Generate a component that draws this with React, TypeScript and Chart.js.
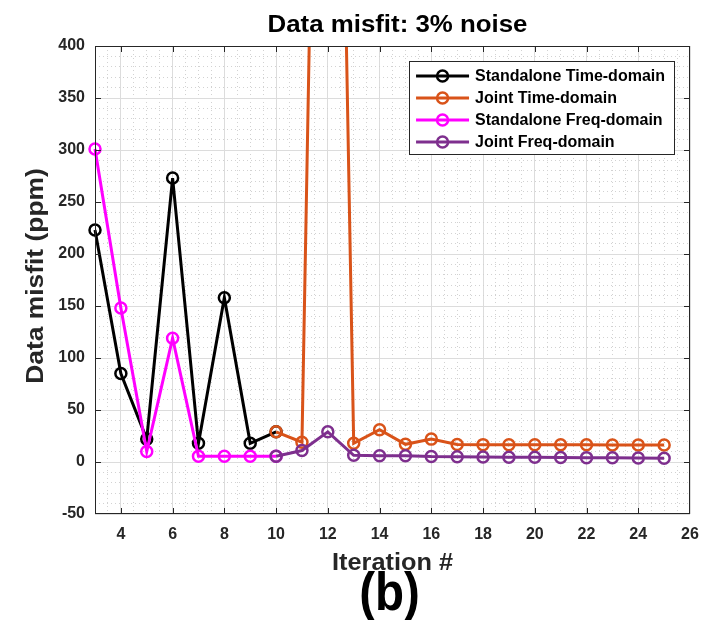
import React, { useEffect, useRef } from "react";
import { Chart, registerables } from "chart.js";

Chart.register(...registerables);

// ---- data ----
const iterations = [3, 4, 5, 6, 7, 8, 9, 10, 11, 12, 13, 14, 15, 16, 17, 18, 19, 20, 21, 22, 23, 24, 25];
const standaloneTime = [223, 85, 22, 273, 18, 158, 18, 29, null, null, null, null, null, null, null, null, null, null, null, null, null, null, null];
const jointTime = [null, null, null, null, null, null, null, 29, 19, 1380, 18, 31, 17, 22, 16.8, 16.7, 16.6, 16.6, 16.5, 16.5, 16.4, 16.4, 16.3];
const standaloneFreq = [301, 148, 10, 119, 5.5, 5.5, 5.5, 5.5, null, null, null, null, null, null, null, null, null, null, null, null, null, null, null];
const jointFreq = [null, null, null, null, null, null, null, 5.5, 11, 29, 6.5, 6, 6, 5.2, 5, 4.8, 4.6, 4.5, 4.3, 4.2, 4.0, 3.9, 3.7];

const seriesLabels = ["Standalone Time-domain", "Joint Time-domain", "Standalone Freq-domain", "Joint Freq-domain"];
const seriesColors = ["#000000", "#D95319", "#FF00FF", "#7E2F8E"];

const titleText = "Data misfit: 3% noise";
const xTitle = "Iteration #";
const yTitle = "Data misfit (ppm)";
const captionText = "(b)";

const xMin = 3, xMax = 26, xMinorStep = 0.5, xMajorStep = 2;
const yMin = -50, yMax = 400, yMinorStep = 10, yMajorStep = 50;

const FONT = "'Liberation Sans', Arial, Helvetica, sans-serif";
const AXIS_COLOR = "#262626";

function drawStretched(ctx: CanvasRenderingContext2D, text: string, x: number, y: number, font: string, color: string, sx: number, rot = 0) {
  ctx.save();
  ctx.translate(x, y);
  if (rot) ctx.rotate(rot);
  ctx.scale(sx, 1);
  ctx.font = font;
  ctx.fillStyle = color;
  ctx.textAlign = "center";
  ctx.textBaseline = "alphabetic";
  ctx.fillText(text, 0, 0);
  ctx.restore();
}

const decorPlugin = {
  id: "decor",
  afterDatasetsDraw(chart: any) {
    const { ctx, chartArea: a, scales } = chart;
    const xs = scales.x, ys = scales.y;
    ctx.save();
    ctx.strokeStyle = AXIS_COLOR;
    ctx.lineWidth = 1;
    ctx.beginPath();
    ys.ticks.forEach((t: any) => {
      if (t.value % yMajorStep !== 0 || t.value === yMin || t.value === yMax) return;
      const py = Math.round(ys.getPixelForValue(t.value)) + 0.5;
      ctx.moveTo(a.left, py); ctx.lineTo(a.left + 6, py);
      ctx.moveTo(a.right, py); ctx.lineTo(a.right - 6, py);
    });
    xs.ticks.forEach((t: any) => {
      if (t.value % xMajorStep !== 0 || t.value === xMax) return;
      const px = Math.round(xs.getPixelForValue(t.value)) + 0.5;
      ctx.moveTo(px, a.bottom); ctx.lineTo(px, a.bottom - 6);
      ctx.moveTo(px, a.top); ctx.lineTo(px, a.top + 6);
    });
    ctx.stroke();
    ctx.strokeRect(a.left + 0.5, a.top + 0.5, a.right - a.left - 1, a.bottom - a.top - 1);
    ctx.restore();
  },
  afterDraw(chart: any) {
    const { ctx, chartArea: a } = chart;
    // legend
    ctx.save();
    ctx.font = `bold 16px ${FONT}`;
    const datasets = chart.data.datasets;
    let maxW = 0;
    datasets.forEach((d: any) => { maxW = Math.max(maxW, ctx.measureText(d.label).width); });
    const boxRight = a.right - 16;
    const boxTop = a.top + 15;
    const boxW = 66 + maxW + 9;
    const rowH = 22;
    const boxH = datasets.length * rowH + 5;
    const boxLeft = boxRight - boxW;
    ctx.fillStyle = "#ffffff";
    ctx.fillRect(boxLeft, boxTop, boxW, boxH);
    ctx.strokeStyle = AXIS_COLOR;
    ctx.lineWidth = 1;
    ctx.strokeRect(Math.round(boxLeft) + 0.5, boxTop + 0.5, Math.round(boxW), boxH);
    datasets.forEach((d: any, i: number) => {
      const cy = boxTop + 15 + i * rowH;
      ctx.strokeStyle = d.borderColor;
      ctx.lineWidth = 3;
      ctx.beginPath();
      ctx.moveTo(boxLeft + 7, cy);
      ctx.lineTo(boxLeft + 60, cy);
      ctx.stroke();
      ctx.lineWidth = 2.5;
      ctx.beginPath();
      ctx.arc(boxLeft + 33.5, cy, 5.5, 0, Math.PI * 2);
      ctx.stroke();
      ctx.fillStyle = "#000000";
      ctx.textAlign = "left";
      ctx.textBaseline = "middle";
      ctx.fillText(d.label, boxLeft + 66, cy + 1);
    });
    ctx.restore();

    // titles
    const cx = (a.left + a.right) / 2;
    drawStretched(ctx, titleText, cx + 5, 32, `bold 23.5px ${FONT}`, "#000000", 1.1);
    drawStretched(ctx, xTitle, cx, 570, `bold 23px ${FONT}`, AXIS_COLOR, 1.1);
    drawStretched(ctx, yTitle, 43, (a.top + a.bottom) / 2 - 4, `bold 24px ${FONT}`, AXIS_COLOR, 1.1, -Math.PI / 2);
    drawStretched(ctx, captionText, cx - 3, 610, `bold 54px ${FONT}`, "#000000", 0.88);
  },
};

function buildData(values: (number | null)[]) {
  return iterations.map((x, i) => ({ x, y: values[i] }));
}

export default function App() {
  const canvasRef = useRef<HTMLCanvasElement | null>(null);

  useEffect(() => {
    const canvas = canvasRef.current;
    if (!canvas) return;
    const allSeries = [standaloneTime, jointTime, standaloneFreq, jointFreq];
    const chart = new Chart(canvas, {
      type: "line",
      data: {
        datasets: allSeries.map((vals, i) => ({
          label: seriesLabels[i],
          data: buildData(vals),
          borderColor: seriesColors[i],
          backgroundColor: seriesColors[i],
          borderWidth: 3,
          pointRadius: 5.5,
          pointHoverRadius: 5.5,
          pointBorderWidth: 2.5,
          pointBorderColor: seriesColors[i],
          pointBackgroundColor: "rgba(0,0,0,0)",
          tension: 0,
          spanGaps: false,
          fill: false,
          clip: { left: 10, right: 10, top: 0, bottom: 10 },
          order: allSeries.length - i,
        })),
      },
      options: {
        responsive: false,
        animation: false,
        devicePixelRatio: 1,
        layout: { padding: { top: 46, right: 13, left: 0, bottom: 0 } },
        plugins: {
          legend: { display: false },
          title: { display: false },
          tooltip: { enabled: false },
        },
        events: [],
        scales: {
          x: {
            type: "linear",
            min: xMin,
            max: xMax,
            afterFit: (s: any) => { s.height = 106; s.paddingLeft = 0; s.paddingRight = 0; },
            ticks: {
              stepSize: xMinorStep,
              autoSkip: false,
              maxRotation: 0,
              minRotation: 0,
              padding: 11,
              color: AXIS_COLOR,
              font: { family: FONT, size: 16, weight: "bold" },
              callback: (v: any) => (Number(v) % xMajorStep === 0 && Number(v) > xMin ? String(v) : ""),
            },
            grid: {
              drawTicks: false,
              lineWidth: 1,
              color: (c: any) => (c.tick && c.tick.value % xMajorStep === 0 ? "#dcdcdc" : "#d2d2d2"),
            },
            border: {
              display: false,
              dash: (c: any) => (c.tick && c.tick.value % xMajorStep === 0 ? [] : [1, 3]),
            },
          },
          y: {
            type: "linear",
            min: yMin,
            max: yMax,
            afterFit: (s: any) => { s.width = 95; s.paddingTop = 0; s.paddingBottom = 0; },
            ticks: {
              stepSize: yMinorStep,
              autoSkip: false,
              padding: 10,
              color: AXIS_COLOR,
              font: { family: FONT, size: 16, weight: "bold" },
              callback: (v: any) => (Number(v) % yMajorStep === 0 ? String(v) : ""),
            },
            grid: {
              drawTicks: false,
              lineWidth: 1,
              color: (c: any) => (c.tick && c.tick.value % yMajorStep === 0 ? "#dcdcdc" : "#d2d2d2"),
            },
            border: {
              display: false,
              dash: (c: any) => (c.tick && c.tick.value % yMajorStep === 0 ? [] : [1, 3]),
            },
          },
        },
      } as any,
      plugins: [decorPlugin],
    });
    return () => chart.destroy();
  }, []);

  return (
    <div style={{ position: "absolute", left: 0, top: 0, width: 703, height: 620, background: "#ffffff" }}>
      <canvas ref={canvasRef} width={703} height={620} style={{ width: 703, height: 620, display: "block" }} />
    </div>
  );
}
